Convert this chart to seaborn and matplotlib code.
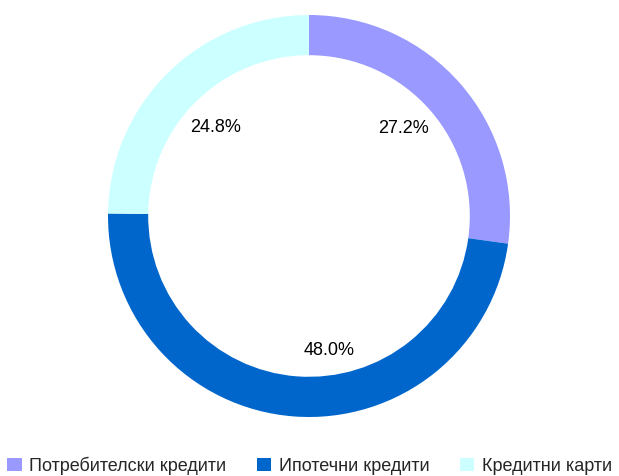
import matplotlib
import matplotlib.pyplot as plt
import seaborn as sns
from matplotlib.patches import Patch

matplotlib.use('Agg')

categories = ['Потребителски кредити', 'Ипотечни кредити', 'Кредитни карти']
shares = [27.2, 48.0, 24.8]
colors = ['#9999FF', '#0066CC', '#CCFFFF']

sns.set_style('white')
plt.rcParams['font.family'] = ['Liberation Sans', 'DejaVu Sans']

W, H = 619, 476
fig = plt.figure(figsize=(W / 100, H / 100), dpi=100)
# donut centre (309, 216) px, outer radius 201 px
r = 201
ax = fig.add_axes([(309 - r) / W, 1 - (216 + r) / H, 2 * r / W, 2 * r / H])

wedges, texts, autotexts = ax.pie(
    shares, colors=colors, startangle=90, counterclock=False,
    autopct='%.1f%%', pctdistance=0.66, radius=1,
    wedgeprops=dict(width=0.2, linewidth=0),
    textprops=dict(fontsize=13, color='black'))
# the big slice label sits a bit right of its mid angle in the original
x, y = autotexts[1].get_position()
autotexts[1].set_position((x + 0.15, y - 0.01))
x, y = autotexts[2].get_position()
autotexts[2].set_position((x, y - 0.03))
x, y = autotexts[0].get_position()
autotexts[0].set_position((x - 0.03, y))

ax.set_xlim(-1, 1)
ax.set_ylim(-1, 1)
ax.set_aspect('equal')
ax.axis('off')

handles = [Patch(facecolor=c, edgecolor='none') for c in colors]
fig.legend(handles, categories, loc='lower center', ncol=3, frameon=False,
           bbox_to_anchor=(0.5, -0.024), fontsize=13, handlelength=0.8,
           handleheight=0.8, handletextpad=0.4, columnspacing=1.7,
           borderaxespad=0.3)

fig.savefig('out.png', dpi=100)
